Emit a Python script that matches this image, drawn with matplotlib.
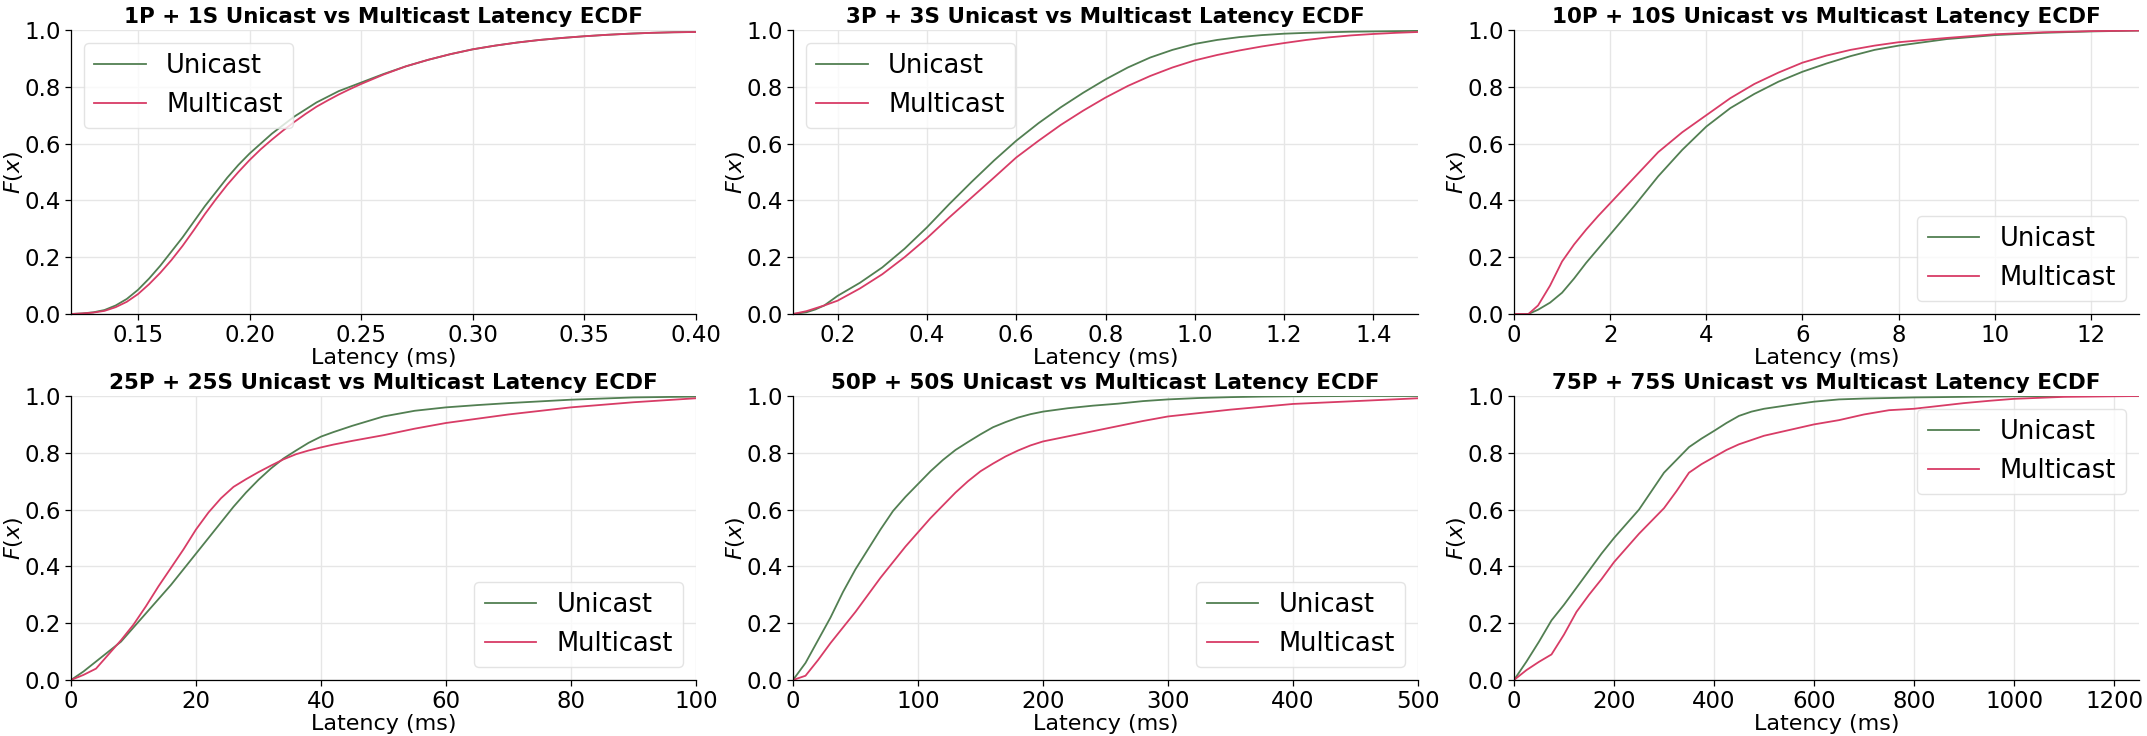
import matplotlib
matplotlib.use("Agg")
import matplotlib.pyplot as plt

plt.rcParams['font.family'] = ['DejaVu Sans']
plt.rcParams['mathtext.fontset'] = 'dejavusans'

# ---------------- data ----------------
titles = ["1P + 1S Unicast vs Multicast Latency ECDF",
          "3P + 3S Unicast vs Multicast Latency ECDF",
          "10P + 10S Unicast vs Multicast Latency ECDF",
          "25P + 25S Unicast vs Multicast Latency ECDF",
          "50P + 50S Unicast vs Multicast Latency ECDF",
          "75P + 75S Unicast vs Multicast Latency ECDF"]
series_names = ["Unicast", "Multicast"]

x1 = [0.120, 0.125, 0.130, 0.135, 0.140, 0.145, 0.150, 0.155, 0.160, 0.165,
      0.170, 0.175, 0.180, 0.185, 0.190, 0.195, 0.200, 0.205, 0.210, 0.215,
      0.220, 0.225, 0.230, 0.235, 0.240, 0.245, 0.250, 0.260, 0.270, 0.280,
      0.290, 0.300, 0.310, 0.320, 0.330, 0.340, 0.350, 0.360, 0.370, 0.380,
      0.390, 0.400]
u1 = [0.0, 0.002, 0.006, 0.014, 0.03, 0.053, 0.085, 0.125, 0.17, 0.22,
      0.27, 0.325, 0.38, 0.43, 0.48, 0.525, 0.565, 0.60, 0.635, 0.665,
      0.695, 0.72, 0.745, 0.765, 0.785, 0.80, 0.815, 0.845, 0.872, 0.895,
      0.915, 0.932, 0.945, 0.956, 0.965, 0.972, 0.978, 0.983, 0.987, 0.99,
      0.992, 0.993]
m1 = [0.0, 0.002, 0.005, 0.011, 0.024, 0.043, 0.07, 0.105, 0.145, 0.19,
      0.24, 0.295, 0.352, 0.405, 0.455, 0.5, 0.542, 0.58, 0.614, 0.646,
      0.676, 0.704, 0.73, 0.752, 0.773, 0.792, 0.81, 0.843, 0.872, 0.895,
      0.915, 0.932, 0.945, 0.956, 0.965, 0.972, 0.978, 0.983, 0.987, 0.99,
      0.992, 0.993]

x2 = [0.1, 0.13, 0.15, 0.17, 0.2, 0.25, 0.3, 0.35, 0.4, 0.45, 0.5, 0.55, 0.6,
      0.65, 0.7, 0.75, 0.8, 0.85, 0.9, 0.95, 1.0, 1.05, 1.1, 1.15, 1.2, 1.25,
      1.3, 1.35, 1.4, 1.45, 1.5]
u2 = [0.0, 0.006, 0.016, 0.03, 0.064, 0.11, 0.164, 0.23, 0.305, 0.387, 0.465,
      0.54, 0.61, 0.672, 0.728, 0.779, 0.826, 0.868, 0.903, 0.93, 0.951, 0.965,
      0.975, 0.982, 0.987, 0.99, 0.992, 0.994, 0.995, 0.996, 0.997]
m2 = [0.0, 0.01, 0.02, 0.03, 0.047, 0.09, 0.14, 0.2, 0.267, 0.34, 0.41, 0.48,
      0.551, 0.61, 0.666, 0.716, 0.762, 0.803, 0.838, 0.868, 0.893, 0.912,
      0.928, 0.942, 0.954, 0.965, 0.974, 0.981, 0.986, 0.99, 0.993]

x3 = [0, 0.3, 0.5, 0.75, 1, 1.25, 1.5, 1.75, 2, 2.5, 3, 3.5, 4, 4.5, 5, 5.5,
      6, 6.5, 7, 7.5, 8, 9, 10, 11, 12, 13]
u3 = [0.0, 0.0, 0.015, 0.04, 0.075, 0.125, 0.18, 0.23, 0.28, 0.38, 0.485,
      0.578, 0.66, 0.725, 0.775, 0.818, 0.853, 0.882, 0.908, 0.93, 0.945,
      0.968, 0.982, 0.99, 0.995, 0.998]
m3 = [0.0, 0.0, 0.03, 0.1, 0.185, 0.245, 0.297, 0.345, 0.39, 0.48, 0.57,
      0.64, 0.70, 0.76, 0.81, 0.85, 0.885, 0.91, 0.93, 0.945, 0.957, 0.972,
      0.985, 0.992, 0.996, 0.998]

x4 = [0, 2, 4, 6, 8, 10, 12, 14, 16, 18, 20, 22, 24, 26, 28, 30, 32, 34, 36,
      38, 40, 42, 45, 50, 55, 60, 65, 70, 80, 90, 100]
u4 = [0.0, 0.03, 0.065, 0.1, 0.135, 0.185, 0.235, 0.285, 0.335, 0.39, 0.445,
      0.5, 0.555, 0.61, 0.66, 0.705, 0.745, 0.78, 0.808, 0.835, 0.857, 0.873,
      0.895, 0.928, 0.948, 0.96, 0.968, 0.975, 0.987, 0.995, 0.998]
m4 = [0.0, 0.018, 0.04, 0.09, 0.14, 0.195, 0.26, 0.33, 0.395, 0.46, 0.53, 0.59,
      0.64, 0.68, 0.707, 0.732, 0.755, 0.777, 0.795, 0.808, 0.819, 0.829, 0.842,
      0.862, 0.885, 0.905, 0.92, 0.935, 0.96, 0.978, 0.992]

x5 = [0, 10, 20, 30, 40, 50, 60, 70, 80, 90, 100, 110, 120, 130, 140, 150, 160,
      170, 180, 190, 200, 220, 240, 260, 280, 300, 325, 350, 375, 400, 450, 500]
u5 = [0.0, 0.06, 0.14, 0.22, 0.31, 0.39, 0.46, 0.53, 0.595, 0.645, 0.69, 0.735,
      0.775, 0.81, 0.838, 0.865, 0.89, 0.908, 0.924, 0.936, 0.945, 0.957, 0.966,
      0.973, 0.982, 0.988, 0.993, 0.996, 0.998, 0.999, 1.0, 1.0]
m5 = [0.0, 0.015, 0.07, 0.13, 0.185, 0.24, 0.3, 0.36, 0.415, 0.47, 0.52, 0.57,
      0.615, 0.66, 0.7, 0.735, 0.762, 0.787, 0.808, 0.826, 0.84, 0.858, 0.876,
      0.894, 0.912, 0.928, 0.94, 0.952, 0.962, 0.972, 0.982, 0.992]

x6 = [0, 25, 50, 75, 100, 125, 150, 175, 200, 225, 250, 275, 300, 325, 350, 375,
      400, 425, 450, 475, 500, 550, 600, 650, 700, 750, 800, 850, 900, 950, 1000,
      1100, 1250]
u6 = [0.0, 0.065, 0.135, 0.21, 0.265, 0.325, 0.385, 0.445, 0.5, 0.55, 0.6,
      0.665, 0.73, 0.775, 0.82, 0.85, 0.877, 0.905, 0.93, 0.945, 0.955, 0.968,
      0.98, 0.988, 0.991, 0.993, 0.995, 0.996, 0.997, 0.998, 0.999, 1.0, 1.0]
m6 = [0.0, 0.035, 0.064, 0.09, 0.16, 0.24, 0.3, 0.355, 0.415, 0.465, 0.515,
      0.56, 0.605, 0.665, 0.73, 0.76, 0.785, 0.81, 0.83, 0.845, 0.86, 0.88, 0.9,
      0.915, 0.935, 0.95, 0.955, 0.965, 0.975, 0.983, 0.99, 0.997, 1.0]

xs = [x1, x2, x3, x4, x5, x6]
unicast = [u1, u2, u3, u4, u5, u6]
multicast = [m1, m2, m3, m4, m5, m6]

xlims = [(0.12, 0.40), (0.1, 1.5), (0, 13), (0, 100), (0, 500), (0, 1250)]
xticks = [[0.15, 0.20, 0.25, 0.30, 0.35, 0.40],
          [0.2, 0.4, 0.6, 0.8, 1.0, 1.2, 1.4],
          [0, 2, 4, 6, 8, 10, 12],
          [0, 20, 40, 60, 80, 100],
          [0, 100, 200, 300, 400, 500],
          [0, 200, 400, 600, 800, 1000, 1200]]
xtick_fmt = ["{:.2f}", "{:.1f}", "{:d}", "{:d}", "{:d}", "{:d}"]
legend_locs = ["upper left", "upper left", "lower right",
               "lower right", "lower right", "upper right"]

# ---------------- style ----------------
c_uni = "#527f52"
c_multi = "#d83c66"
W, H = 2147, 736
fig = plt.figure(figsize=(W / 100, H / 100), dpi=100)

lefts = [71, 793, 1514]
tops = [30, 396]
aw, ah = 625, 284

for i in range(6):
    r, c = divmod(i, 3)
    ax = fig.add_axes([lefts[c] / W, 1 - (tops[r] + ah) / H, aw / W, ah / H])
    ax.plot(xs[i], unicast[i], color=c_uni, lw=1.3, label=series_names[0])
    ax.plot(xs[i], multicast[i], color=c_multi, lw=1.3, label=series_names[1])
    ax.set_xlim(*xlims[i])
    ax.set_ylim(0, 1)
    ax.set_xticks(xticks[i])
    ax.set_xticklabels([xtick_fmt[i].format(v) for v in xticks[i]])
    ax.set_yticks([0, 0.2, 0.4, 0.6, 0.8, 1.0])
    ax.set_yticklabels(["0.0", "0.2", "0.4", "0.6", "0.8", "1.0"])
    ax.tick_params(labelsize=16.5, length=4, width=0.9, pad=3)
    ax.grid(True, color="#e6e6e6", lw=1.0)
    ax.set_axisbelow(True)
    for s in ("top", "right"):
        ax.spines[s].set_visible(False)
    for s in ("left", "bottom"):
        ax.spines[s].set_linewidth(0.9)
    ax.set_title(titles[i], fontsize=15.5, fontweight="bold", pad=5)
    ax.set_ylabel("$F(x)$", fontsize=16, labelpad=0)
    ax.set_xlabel("Latency (ms)", fontsize=16, labelpad=1)
    leg = ax.legend(loc=legend_locs[i], fontsize=18.5, frameon=True,
                    fancybox=True, edgecolor="#dddddd", framealpha=0.8,
                    handlelength=2.0)

fig.savefig("out.png", dpi=100, facecolor="white")
